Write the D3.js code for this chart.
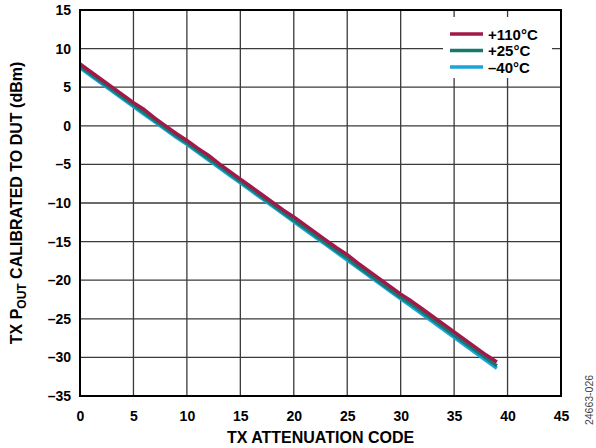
<!DOCTYPE html>
<html>
<head>
<meta charset="utf-8">
<script src="https://cdn.jsdelivr.net/npm/d3@7"></script>
<style>
  html, body { margin: 0; padding: 0; background: #fff; }
  svg { display: block; font-family: "Liberation Sans", Arial, Helvetica, sans-serif; }
</style>
</head>
<body>
<svg id="chart" width="596" height="448"></svg>
<script>
// ---- data ----
const codes = d3.range(0, 40);
const seriesNames = ["+110°C", "+25°C", "\u201340°C"];
const p110 = [8.0, 7.0, 6.0, 5.0, 4.0, 3.0, 2.1, 1.0, 0.0, -1.0,
  -1.9, -2.9, -3.8, -4.9, -5.9, -6.9, -7.9, -8.9, -9.9, -10.9,
  -11.8, -12.8, -13.8, -14.8, -15.8, -16.7, -17.8, -18.8, -19.8, -20.8,
  -21.8, -22.7, -23.7, -24.7, -25.7, -26.7, -27.7, -28.7, -29.7, -30.6];
const p25 = [7.7, 6.7, 5.7, 4.7, 3.7, 2.7, 1.7, 0.7, -0.3, -1.3,
  -2.2, -3.2, -4.2, -5.2, -6.2, -7.2, -8.2, -9.2, -10.2, -11.2,
  -12.2, -13.2, -14.2, -15.2, -16.2, -17.1, -18.2, -19.2, -20.2, -21.2,
  -22.2, -23.1, -24.1, -25.1, -26.1, -27.1, -28.1, -29.1, -30.1, -31.1];
const pm40 = [7.5, 6.5, 5.5, 4.5, 3.5, 2.5, 1.5, 0.5, -0.5, -1.5,
  -2.4, -3.4, -4.4, -5.4, -6.4, -7.4, -8.4, -9.4, -10.4, -11.4,
  -12.4, -13.4, -14.4, -15.4, -16.4, -17.4, -18.4, -19.4, -20.4, -21.4,
  -22.4, -23.4, -24.4, -25.4, -26.4, -27.4, -28.4, -29.4, -30.4, -31.4];
const xTicks = [0, 5, 10, 15, 20, 25, 30, 35, 40, 45];
const yTicks = [15, 10, 5, 0, -5, -10, -15, -20, -25, -30, -35];
const colors = ["#A0194A", "#157A6E", "#1AA3DC"];

// ---- layout ----
const svg = d3.select("#chart");
const L = 80, R = 561, T = 10, B = 396;
const x = d3.scaleLinear().domain([0, 45]).range([L, R]);
const y = d3.scaleLinear().domain([-35, 15]).range([B, T]);
const fmt = v => (v < 0 ? "\u2013" + Math.abs(v) : String(v));

svg.append("rect").attr("width", 596).attr("height", 448).attr("fill", "#fff");

// grid
const grid = svg.append("g");
grid.selectAll("line.vx").data(xTicks.slice(1, -1)).join("line")
  .attr("x1", d => x(d)).attr("x2", d => x(d)).attr("y1", T).attr("y2", B)
  .attr("stroke", "#3a3a3a").attr("stroke-width", 1.3);
grid.selectAll("line.hy").data(yTicks.slice(1, -1)).join("line")
  .attr("x1", L).attr("x2", R).attr("y1", d => y(d)).attr("y2", d => y(d))
  .attr("stroke", "#3a3a3a").attr("stroke-width", 1.3);

// axes via d3 axis (labels only)
const xAxis = svg.append("g").attr("transform", `translate(0,${B})`)
  .call(d3.axisBottom(x).tickValues(xTicks).tickSize(0).tickPadding(15).tickFormat(fmt));
const yAxis = svg.append("g").attr("transform", `translate(${L},0)`)
  .call(d3.axisLeft(y).tickValues(yTicks).tickSize(0).tickPadding(9).tickFormat(fmt));
[xAxis, yAxis].forEach(a => {
  a.select(".domain").remove();
  a.selectAll("text").attr("font-family", '"Liberation Sans", Arial, sans-serif')
    .attr("font-size", 14).attr("font-weight", "bold").attr("fill", "#000");
});

// lines
const line = d3.line().x((d, i) => x(codes[i])).y(d => y(d));
const series = [pm40, p25, p110];
const seriesColors = [colors[2], colors[1], colors[0]];
svg.append("g").selectAll("path").data(series).join("path")
  .attr("d", line).attr("fill", "none")
  .attr("stroke", (d, i) => seriesColors[i]).attr("stroke-width", 3.5)
  .attr("stroke-linejoin", "round");

// frame
svg.append("rect").attr("x", L).attr("y", T).attr("width", R - L).attr("height", B - T)
  .attr("fill", "none").attr("stroke", "#000").attr("stroke-width", 2);

// legend
const lg = svg.append("g");
lg.append("rect").attr("x", 443).attr("y", 17).attr("width", 109).attr("height", 61).attr("fill", "#fff");
seriesNames.forEach((name, i) => {
  const cy = 34 + i * 16.5;
  lg.append("line").attr("x1", 450).attr("x2", 483).attr("y1", cy).attr("y2", cy)
    .attr("stroke", colors[i]).attr("stroke-width", 3.5);
  lg.append("text").attr("x", 488).attr("y", cy + 5.5)
    .attr("font-size", 15).attr("font-weight", "bold").text(name);
});

// axis titles
svg.append("text").attr("x", (L + R) / 2).attr("y", 443).attr("text-anchor", "middle")
  .attr("font-size", 16).attr("font-weight", "bold").text("TX ATTENUATION CODE");
const yt = svg.append("text").attr("transform", `translate(22,${(T + B) / 2}) rotate(-90)`)
  .attr("text-anchor", "middle").attr("font-size", 16).attr("font-weight", "bold");
yt.append("tspan").text("TX P");
yt.append("tspan").attr("font-size", 12).attr("dy", 4).text("OUT");
yt.append("tspan").attr("dy", -4).text(" CALIBRATED TO DUT (dBm)");

// figure id
svg.append("text").attr("transform", "translate(593,400) rotate(-90)")
  .attr("text-anchor", "middle").attr("font-size", 10.5).attr("fill", "#444")
  .text("24663-026");
</script>
</body>
</html>
